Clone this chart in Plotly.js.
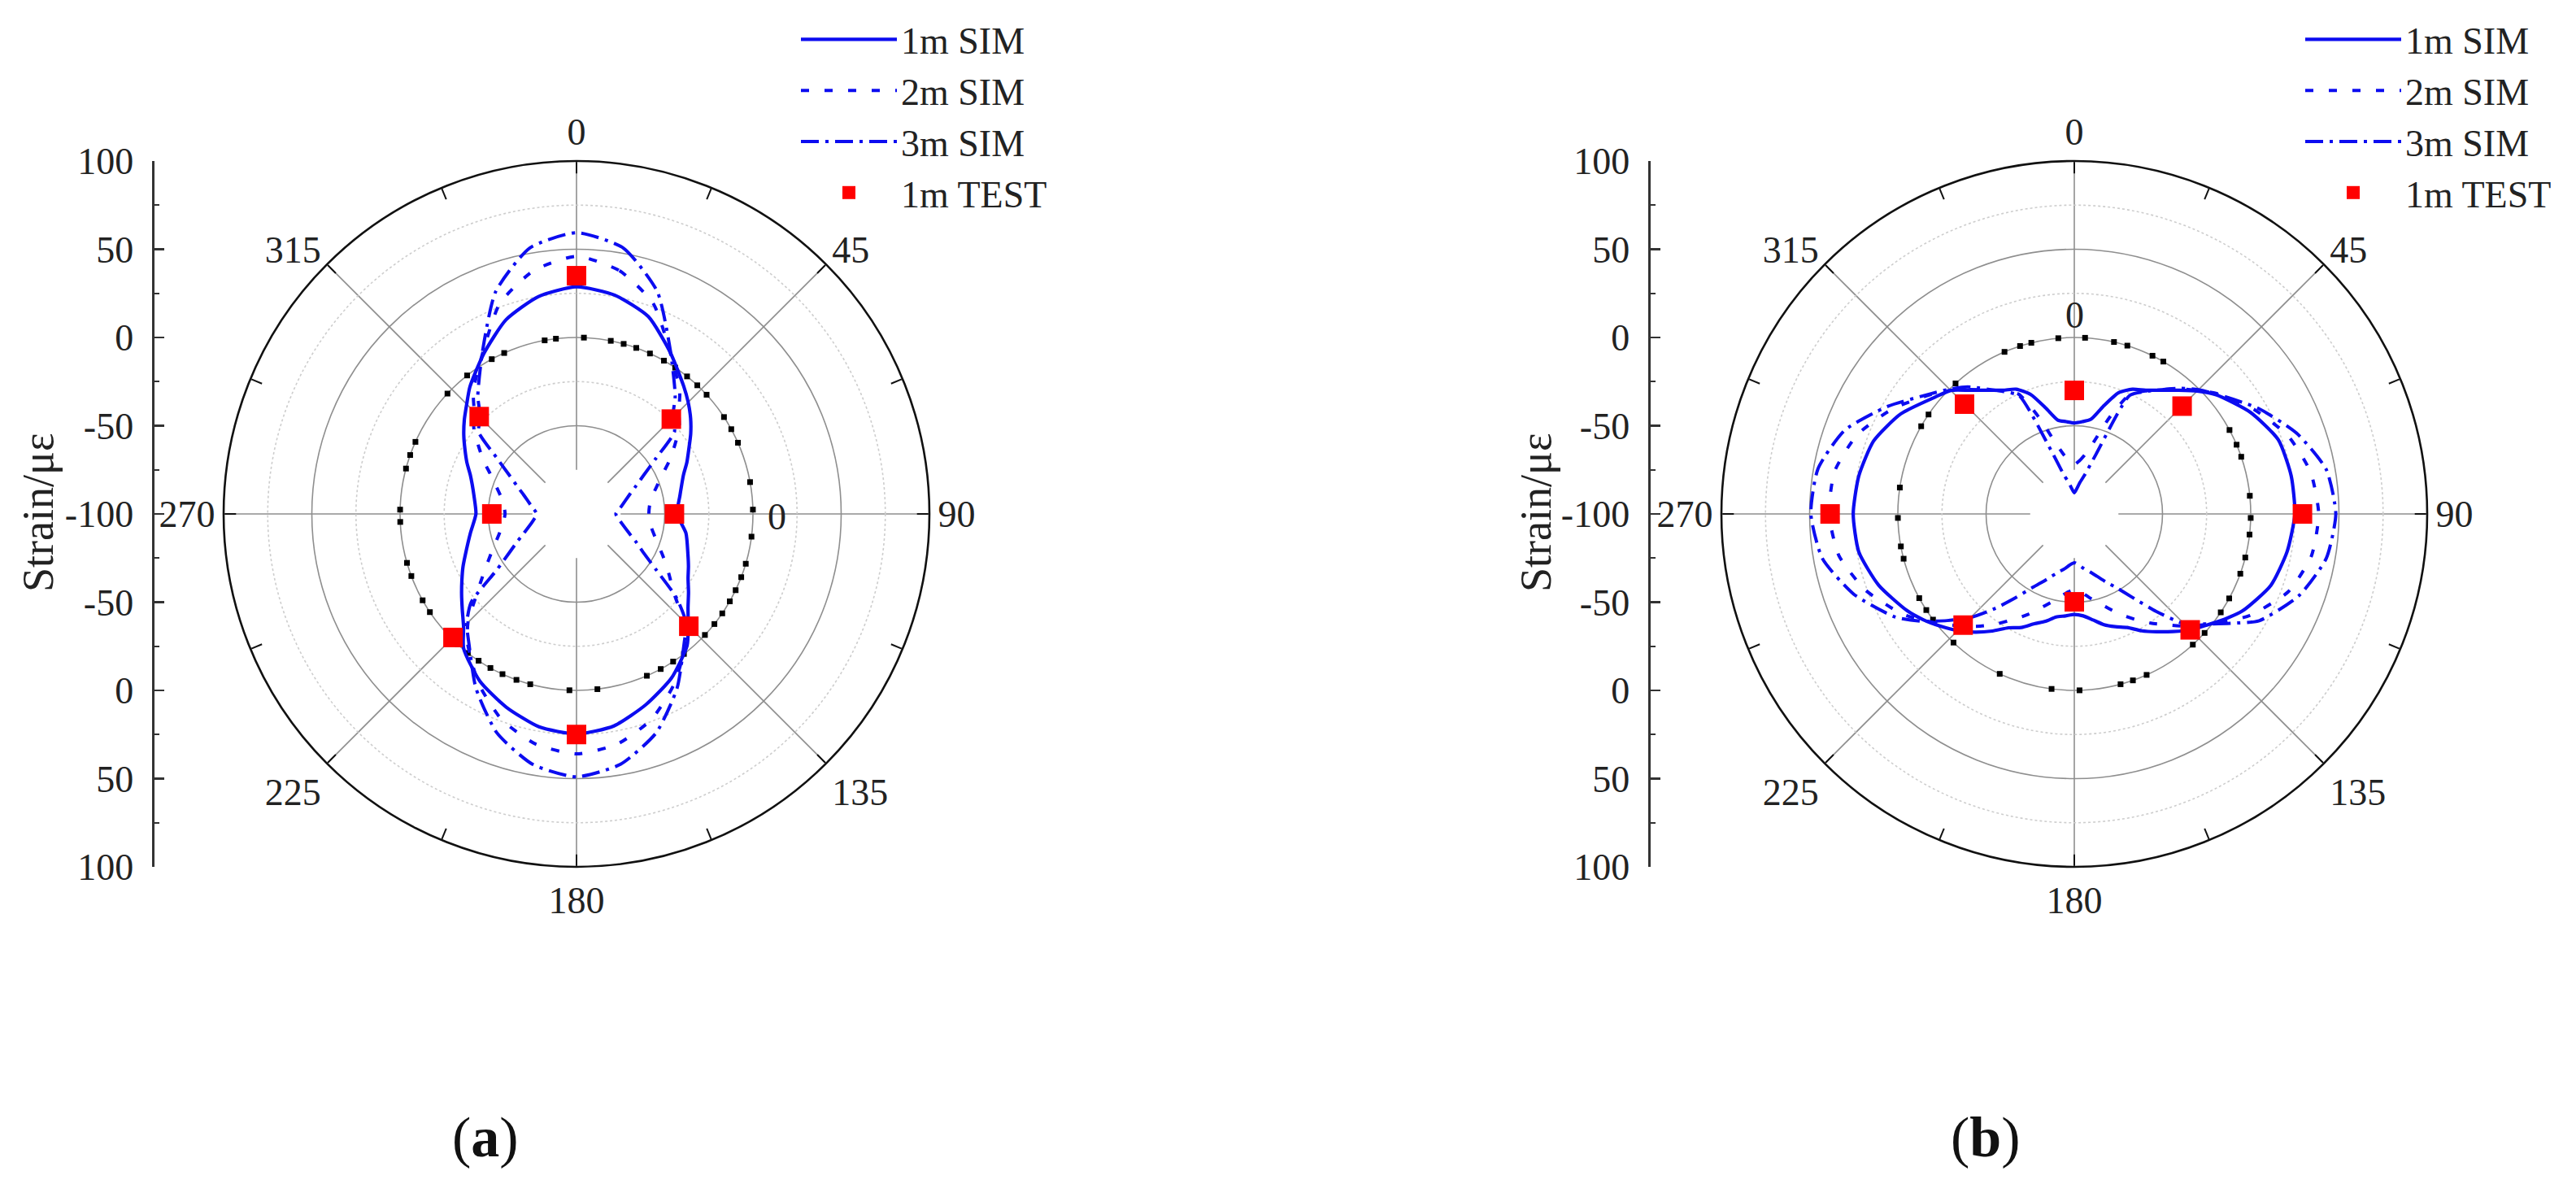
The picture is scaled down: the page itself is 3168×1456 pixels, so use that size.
<!DOCTYPE html>
<html><head><meta charset="utf-8">
<script src="https://cdn.plot.ly/plotly-3.0.1.min.js"></script>
<style>html,body{margin:0;padding:0;background:#fff}#chart{width:3168px;height:1456px}</style>
</head><body><div id="chart"></div>
<script>
// ---------------- data ----------------
// panel (a)
const thetaA = [0,10,20,30,40,45,50,55,60,65,70,80,90,100,110,115,120,125,130,135,140,150,160,170,180,
                190,200,210,220,225,230,235,240,245,250,260,270,280,290,295,300,305,310,315,320,330,340,350,360];
const simA1 = [28.7,25.8,19,6,-5.5,-10.5,-15.6,-21,-26.5,-31,-35.5,-40.5,-43,-37,-32.8,-30,-27,-22.5,-17.5,-10.5,-2.5,7.5,15,22,24.7,
               22.5,16.5,9.5,-0.5,-9.5,-15.5,-20.5,-25,-29,-33,-39,-43,-41,-36,-31.5,-27,-22,-17,-12,-6,5,17,25,28.7];
const simA2 = [46,40,27,6,-9,-18,-24,-32,-39,-46,-51,-57.5,-59,-57,-51,-46.5,-41,-35,-27,-14,-4,11,24,32.5,36,
               32.5,24,11,-4,-13,-25,-34,-41,-46.5,-51,-57,-59.5,-57.5,-51,-46,-39,-32,-24,-18,-9,6,27,40,46];
const simA3 = [59.4,53,34,6.5,-13,-23,-27.5,-45,-56,-63,-68,-74,-77.7,-74.6,-68.3,-63,-56.3,-45,-26,-12,-5,14,32,44,49,
               44,32,14,-5,-12,-22,-45,-56,-63,-68.3,-74.6,-77.5,-74,-68,-63,-56,-45,-27.5,-23,-13,6.5,34,53,59.4];
const testTheta = [0,45,90,135,180,225,270,315];
const testA = [35,-24,-44.5,-10,25,-1,-52,-22];
const ringA = [2.4,11.2,15.5,19.8,24.6,29.7,34,38.8,43.2,47.5,56.7,61.3,66.2,79.6,88.6,97.4,106.4,111,115.6,119.7,124.3,128.6,133.3,
               142.5,146.8,151.5,156.5,173.2,182.3,195.2,199.9,204.8,209.2,213.7,218,222.4,236.2,240.7,249.4,253.9,267.4,271.4,
               284.9,289.5,294.1,313,321.7,331.3,335.8,349.6,353.3];

// panel (b)
const thetaB = [0,5,10,15,20,25,30,40,45,50,60,70,80,90,100,110,120,125,130,135,140,145,150,155,160,165,170,175,180,
                185,190,195,200,205,210,215,220,225,230,235,240,250,260,270,280,290,300,310,315,320,330,335,340,345,350,355,360];
const simB1 = [-48.4,-47.5,-45.5,-37,-27,-22,-19,-8.5,-1.5,5,15.2,23,24.8,25,22.5,18.5,10,4,-2,-7,-13,-18.5,-23.5,-29,-32,-35,-39,-42,-43,
               -42,-40.7,-37,-33.8,-29,-25.5,-19,-12.5,-6.5,-1,4.5,9.5,18,24,25.3,24,21,13.5,3,-1,-8.5,-19,-22,-28,-38,-46,-47.5,-48.4];
const simB2 = [-72,-70,-66,-58,-42,-25,-19.5,-7.5,-1,6,18,29,36,38.5,36.5,29,15,6,-2.5,-10,-18,-24.5,-31,-37,-43,-48,-52,-55.5,-57,
               -55.5,-52,-48,-43,-37,-31,-24,-17,-10,-3,5,13,26,35.5,39,38,31,19,5.5,-1,-8,-19.5,-25,-42,-58,-66,-70,-72];
const simB3 = [-88,-86,-82,-77,-64,-26,-20,-7,-0.5,5.5,20,34,45,48.2,45,35.5,21,8,-3,-12,-28,-42,-51.5,-57.5,-62.4,-66,-68.5,-71,-72.4,
               -71,-68.5,-66,-62.4,-57.5,-51.5,-42,-30,-17,-6,6,17,33,45,49.3,47.5,38.5,22,6,0,-6,-20,-26,-62,-77,-82,-86,-88];
const testB = [-30,-13.6,29.3,-7.1,-50.2,-10.9,38.4,-12];
const ringB = [3.5,13,17.5,26.3,30.3,61.6,66.9,71.1,84.1,91.3,96.7,104.3,109.8,118.6,123.9,132.4,137.8,155.8,160.6,164.8,178.3,
               187.4,205,223.2,233.2,237,241.5,255.3,259.4,268.7,278.6,299.8,304.3,317.7,336.7,342.1,345.9,354.8];

const angTicks = [0,22.5,45,67.5,90,112.5,135,157.5,180,202.5,225,247.5,270,292.5,315,337.5];
const angLabels = ['0','','45','','90','','135','','180','','225','','270','','315',''];
const spokeTicks = [0,45,90,135,180,225,270,315];
const radialTicks = [-200,-150,-100,-50,0,50,100,150,200];
const radialLabels = ['100','50','0','-50','-100','-50','0','50','100'];
const seriesNames = ['1m SIM','2m SIM','3m SIM','1m TEST'];

// ---------------- styling / layout ----------------
const W = 3168, H = 1456;
const px = v => v / W, py = v => 1 - v / H;
const FONT = 'Liberation Serif, Times New Roman, serif';
const BLUE = 'rgb(12,12,240)';
const R = 434, CY = 632, CXA = 709, CXB = 2551;
const GRID = '#8e8e8e';

function polarBg(cx) {
  return {
    domain: {x: [px(cx - R), px(cx + R)], y: [py(CY + R), py(CY - R)]},
    bgcolor: 'rgba(0,0,0,0)', hole: 0.125,
    radialaxis: {range: [-75, 100], tickvals: [-25, 25, 75], showticklabels: false, ticks: '', showline: false,
                 gridcolor: '#cdcdcd', gridwidth: 1.6, griddash: 'dot'},
    angularaxis: {rotation: 90, direction: 'clockwise', tickvals: spokeTicks, showticklabels: false, ticks: '',
                  showline: false, showgrid: true, gridcolor: GRID, gridwidth: 1.6}
  };
}
function polarMain(cx) {
  return {
    domain: {x: [px(cx - R), px(cx + R)], y: [py(CY + R), py(CY - R)]},
    bgcolor: 'rgba(0,0,0,0)',
    radialaxis: {range: [-100, 100], tickvals: [-50, 0, 50], showticklabels: false, ticks: '', showline: false,
                 gridcolor: GRID, gridwidth: 1.6},
    angularaxis: {rotation: 90, direction: 'clockwise', tickvals: angTicks, ticktext: angLabels,
                  ticks: 'inside', ticklen: 14, tickwidth: 2, tickcolor: '#111',
                  showline: true, linecolor: '#111', linewidth: 2.6, showgrid: false,
                  tickfont: {family: FONT, size: 46, color: '#222'}}
  };
}
function yAxis(xname) {
  return {
    anchor: xname, domain: [py(CY + R), py(CY - R)], range: [-200, 200],
    tickmode: 'array', tickvals: radialTicks, ticktext: radialLabels,
    ticks: 'inside', ticklen: 12, tickwidth: 2.4, tickcolor: '#333',
    showline: true, linecolor: '#333', linewidth: 2.6, showgrid: false, zeroline: false,
    ticklabelstandoff: 14, fixedrange: true,
    tickfont: {family: FONT, size: 46, color: '#222'},
    minor: {tickmode: 'linear', tick0: 0, dtick: 25, ticks: 'inside', ticklen: 6, tickwidth: 2, tickcolor: '#333', showgrid: false}
  };
}

function panelTraces(bgSub, sub, xa, ya, leg, theta, s1, s2, s3, test, ring) {
  return [
    {type: 'scatterpolar', subplot: bgSub, r: [], theta: [], mode: 'lines', showlegend: false, hoverinfo: 'skip'},
    {type: 'scatter', xaxis: xa, yaxis: ya, x: [], y: [], showlegend: false, hoverinfo: 'skip'},
    {type: 'scatterpolar', subplot: sub, theta: ring, r: ring.map(() => 0), mode: 'markers',
     marker: {symbol: 'square', size: 7, color: '#000'}, showlegend: false, hoverinfo: 'skip'},
    {type: 'scatterpolar', subplot: sub, theta: theta, r: s3, mode: 'lines', name: seriesNames[2], legend: leg, legendrank: 3,
     line: {color: BLUE, width: 4, dash: '22px,8px,4px,8px', shape: 'spline', smoothing: 0.6}},
    {type: 'scatterpolar', subplot: sub, theta: theta, r: s2, mode: 'lines', name: seriesNames[1], legend: leg, legendrank: 2,
     line: {color: BLUE, width: 4, dash: '10px,19px', shape: 'spline', smoothing: 0.6}},
    {type: 'scatterpolar', subplot: sub, theta: theta, r: s1, mode: 'lines', name: seriesNames[0], legend: leg, legendrank: 1,
     line: {color: BLUE, width: 4.2, shape: 'spline', smoothing: 0.6}},
    {type: 'scatterpolar', subplot: sub, theta: testTheta, r: test, mode: 'markers', name: seriesNames[3], legend: leg, legendrank: 4,
     marker: {symbol: 'square', size: 24, color: '#ff0000'}}
  ];
}

const data = [].concat(
  panelTraces('polar', 'polar2', 'x', 'y', 'legend', thetaA, simA1, simA2, simA3, testA, ringA),
  panelTraces('polar3', 'polar4', 'x2', 'y2', 'legend2', thetaB, simB1, simB2, simB3, testB, ringB)
);

function legendAt(x) {
  return {x: px(x), y: py(12), xanchor: 'left', yanchor: 'top', bgcolor: 'rgba(0,0,0,0)',
          font: {family: FONT, size: 46, color: '#222'}, itemwidth: 118, tracegroupgap: 0, traceorder: 'normal'};
}

const ann = (x, y, text, extra) => Object.assign({xref: 'paper', yref: 'paper', x: px(x), y: py(y), text: text,
  showarrow: false, xanchor: 'center', yanchor: 'middle', font: {family: FONT, size: 46, color: '#222'}}, extra || {});

const layout = {
  width: W, height: H, margin: {l: 0, r: 0, t: 0, b: 0}, paper_bgcolor: '#fff', plot_bgcolor: 'rgba(0,0,0,0)',
  showlegend: true,
  polar: polarBg(CXA), polar2: polarMain(CXA), polar3: polarBg(CXB), polar4: polarMain(CXB),
  xaxis: {domain: [px(190), px(200)], visible: false, fixedrange: true, range: [0, 1]},
  yaxis: yAxis('x'),
  xaxis2: {domain: [px(2030), px(2040)], visible: false, fixedrange: true, range: [0, 1]},
  yaxis2: yAxis('x2'),
  legend: legendAt(980), legend2: legendAt(2830),
  annotations: [
    ann(47, 630, 'Strain/με', {textangle: -90, font: {family: FONT, size: 54, color: '#222'}}),
    ann(1889, 630, 'Strain/με', {textangle: -90, font: {family: FONT, size: 54, color: '#222'}}),
    ann(955, 635, '0'),
    ann(CXB, 388, '0'),
    ann(597, 1398, '(<b>a</b>)', {font: {family: FONT, size: 70, color: '#111'}}),
    ann(2442, 1398, '(<b>b</b>)', {font: {family: FONT, size: 70, color: '#111'}})
  ]
};

Plotly.newPlot('chart', data, layout, {staticPlot: true, displayModeBar: false});
</script></body></html>
